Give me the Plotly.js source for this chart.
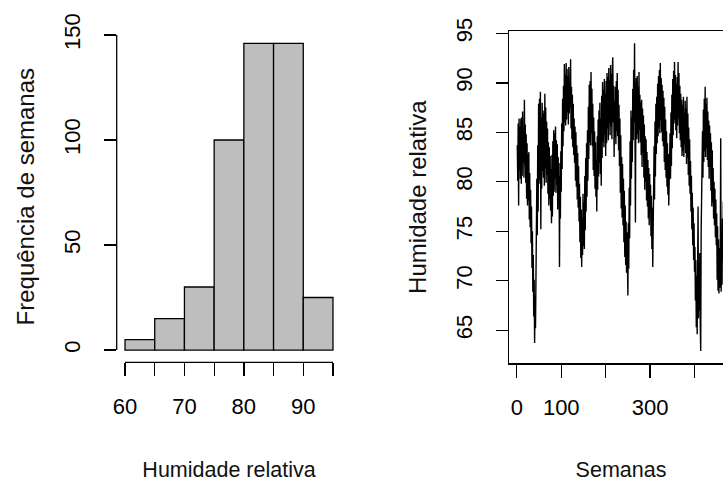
<!DOCTYPE html>
<html>
<head>
<meta charset="utf-8">
<script src="https://cdn.plot.ly/plotly-3.0.1.min.js"></script>
<style>
  html, body { margin: 0; padding: 0; overflow: hidden; background: #fff; }
  #chart { width: 740px; height: 482px; }
</style>
</head>
<body>
<div id="chart"></div>
<script>
// ---------- Data ----------
// Histogram of relative humidity (left panel)
const binStarts = [60, 65, 70, 75, 80, 85, 90];
const binWidth = 5;
const binCounts = [5, 15, 30, 100, 146, 146, 25];
const histXTicks = [60, 65, 70, 75, 80, 85, 90, 95];
const histXTickText = ['60', '', '70', '', '80', '', '90', ''];
const histYTicks = [0, 50, 100, 150];

// Weekly relative humidity series (right panel)
const humidity = [
  83.7, 80.1, 85.9, 77.6, 86.4, 81.2, 85.6, 80.3, 86.4, 79.8,
  86.5, 80.6, 87.1, 82.0, 84.9, 80.4, 88.3, 81.7, 85.8, 79.9,
  84.8, 78.3, 83.9, 77.6, 82.8, 78.1, 83.0, 76.2, 80.9, 75.4,
  79.2, 73.8, 77.5, 71.3, 75.0, 68.9, 72.6, 66.4, 70.1, 63.7,
  68.5, 65.2, 76.1, 70.9, 80.3, 74.6, 83.7, 77.0, 87.9, 79.8,
  88.4, 80.2, 89.1, 75.2, 86.5, 79.3, 88.0, 81.1, 87.2, 80.4,
  86.9, 79.6, 88.9, 81.3, 87.5, 79.9, 86.1, 80.7, 85.4, 78.8,
  84.0, 77.6, 83.5, 78.2, 82.6, 77.1, 81.3, 75.8, 82.7, 76.5,
  84.1, 78.6, 85.2, 79.0, 84.9, 80.3, 85.6, 78.9, 84.2, 79.7,
  83.8, 77.2, 82.5, 78.0, 81.9, 71.4, 80.6, 76.3, 83.1, 79.0,
  85.9, 81.3, 88.4, 83.6, 89.7, 85.1, 91.9, 86.0, 90.8, 85.7,
  92.0, 86.3, 91.4, 87.0, 90.7, 85.8, 91.6, 86.9, 90.2, 87.5,
  92.4, 85.4, 89.6, 84.3, 88.8, 83.5, 87.9, 82.7, 86.4, 81.9,
  85.6, 80.1, 85.0, 79.5, 83.7, 78.2, 82.9, 77.4, 81.6, 76.0,
  79.8, 73.9, 78.5, 72.3, 77.2, 71.4, 76.4, 72.6, 78.8, 73.5,
  77.9, 73.2, 80.6, 75.1, 82.4, 77.0, 83.9, 78.5, 85.2, 80.1,
  87.6, 82.3, 89.8, 84.0, 90.2, 83.7, 91.1, 84.9, 89.4, 83.6,
  87.9, 81.2, 86.5, 80.6, 85.1, 79.3, 84.0, 78.5, 82.3, 77.0,
  84.6, 79.2, 86.3, 80.5, 87.2, 81.9, 88.0, 80.8, 86.4, 79.6,
  88.7, 82.4, 90.1, 84.0, 89.3, 83.5, 90.4, 84.8, 88.9, 82.6,
  90.2, 83.9, 91.0, 85.4, 90.6, 84.2, 91.5, 85.9, 90.3, 84.7,
  91.8, 85.6, 90.9, 84.3, 91.4, 92.6, 86.0, 89.7, 82.5, 88.1,
  84.5, 89.6, 83.8, 90.2, 85.1, 91.0, 84.6, 89.3, 83.2, 87.8,
  81.6, 86.4, 78.9, 84.7, 77.3, 82.5, 76.4, 81.8, 75.6, 80.3,
  73.9, 79.1, 72.4, 77.6, 71.6, 76.0, 70.8, 74.9, 69.5, 68.5,
  75.8, 71.2, 79.4, 74.3, 84.1, 77.6, 87.2, 80.3, 86.5, 82.0,
  89.4, 84.2, 91.3, 86.0, 94.0, 85.1, 75.9, 88.6, 90.5, 84.3,
  90.7, 84.8, 89.6, 83.9, 91.1, 85.2, 88.8, 84.0, 88.1, 82.7,
  88.3, 81.5, 87.4, 82.9, 86.7, 80.4, 85.8, 79.2, 84.6, 80.0,
  84.3, 78.1, 83.0, 77.5, 82.2, 76.3, 81.4, 75.6, 80.8, 76.9,
  79.7, 74.5, 78.6, 73.2, 77.4, 71.4, 79.0, 75.8, 83.6, 78.2,
  86.1, 80.5, 87.9, 82.8, 88.6, 83.9, 89.9, 84.6, 90.7, 85.5,
  91.3, 84.9, 92.0, 86.2, 90.5, 85.0, 89.8, 84.1, 89.2, 83.6,
  88.5, 82.0, 87.6, 81.2, 86.3, 80.4, 85.1, 79.5, 83.9, 78.7,
  82.8, 77.6, 82.1, 79.0, 84.9, 80.3, 87.0, 81.6, 88.8, 83.4,
  90.4, 84.7, 91.2, 85.9, 92.1, 86.3, 90.8, 85.2, 89.9, 84.4,
  90.6, 85.7, 92.1, 86.4, 91.0, 84.9, 89.7, 84.2, 88.9, 83.5,
  88.3, 82.6, 87.8, 83.1, 88.6, 82.5, 87.0, 83.8, 88.2, 82.9,
  87.4, 81.8, 88.6, 82.4, 86.9, 80.7, 85.5, 79.6, 84.3, 78.8,
  82.1, 77.0, 80.6, 75.2, 78.9, 73.6, 77.4, 72.1, 75.8, 70.9,
  73.4, 68.0, 72.1, 65.3, 70.5, 64.6, 69.7, 77.5, 66.2, 71.9,
  67.0, 72.8, 65.4, 62.9, 75.0, 80.6, 76.9, 85.1, 80.4, 87.3,
  82.0, 88.4, 83.1, 89.6, 82.5, 87.9, 83.4, 88.5, 82.2, 87.1,
  81.5, 86.2, 80.3, 85.7, 81.5, 84.9, 79.1, 84.0, 77.5, 83.2,
  77.9, 81.4, 76.3, 80.0, 75.6, 79.3, 74.4, 78.2, 73.6, 76.8,
  70.1, 75.5, 69.0, 74.2, 68.7, 73.3, 69.3, 72.0, 84.4, 68.9,
  74.8, 69.6, 76.3, 72.1, 78.0, 74.4, 80.2, 76.5
];
const seriesXTicks = [0, 100, 200, 300, 400];
const seriesXTickText = ['0', '100', '', '300', ''];
const seriesYTicks = [65, 70, 75, 80, 85, 90, 95];

// ---------- Derived ----------
const binMids = binStarts.map(b => b + binWidth / 2);
const weeks = humidity.map((_, i) => i + 1);

function rPad(lo, hi) { const d = (hi - lo) * 0.04; return [lo - d, hi + d]; }
const histXRange = rPad(binStarts[0], binStarts[binStarts.length - 1] + binWidth);
const histYRange = rPad(0, Math.max(...binCounts));
const serXRange = rPad(1, humidity.length);
const serYRange = rPad(Math.min(...humidity), Math.max(...humidity));

const W = 740, H = 482;
const FONT = 'Liberation Sans, Arial, Helvetica, sans-serif';
const tickFont = { family: FONT, size: 22, color: '#000' };
const xTitleFont = { family: FONT, size: 21.5, color: '#111' };
const yTitleFont = { family: FONT, size: 24, color: '#111' };

const traces = [
  {
    type: 'bar', x: binMids, y: binCounts, width: binWidth,
    marker: { color: '#BEBEBE', line: { color: '#000', width: 1.3 } },
    xaxis: 'x', yaxis: 'y', hoverinfo: 'x+y', showlegend: false
  },
  {
    type: 'scatter', mode: 'lines', x: weeks, y: humidity,
    line: { color: '#000', width: 1.4 },
    xaxis: 'x2', yaxis: 'y2', showlegend: false
  }
];

const common = {
  showgrid: false, zeroline: false, ticks: 'outside',
  tickcolor: '#000', tickwidth: 1.3, tickfont: tickFont, fixedrange: true
};

const layout = {
  width: W, height: H,
  margin: { l: 0, r: 0, t: 0, b: 0 },
  paper_bgcolor: '#fff', plot_bgcolor: '#fff',
  bargap: 0,
  xaxis: Object.assign({}, common, {
    domain: [116.7 / W, 341.3 / W], range: histXRange,
    tickvals: histXTicks, ticktext: histXTickText, ticklen: 13,
    showline: false, ticklabelstandoff: 11,
    title: { text: 'Humidade relativa', font: xTitleFont, standoff: 44 },
    anchor: 'y'
  }),
  yaxis: Object.assign({}, common, {
    domain: [1 - 362.3 / H, 1 - 31.1 / H], range: histYRange,
    tickvals: histYTicks, ticklen: 12, tickangle: -90,
    showline: false, ticklabelstandoff: 15,
    title: { text: 'Frequência de semanas', font: yTitleFont, standoff: 18 },
    anchor: 'x'
  }),
  xaxis2: Object.assign({}, common, {
    domain: [509 / W, 733 / W], range: serXRange,
    tickvals: seriesXTicks, ticktext: seriesXTickText, ticklen: 13,
    showline: true, mirror: true, linecolor: '#000', linewidth: 1.3,
    ticklabelstandoff: 11,
    title: { text: 'Semanas', font: xTitleFont, standoff: 44 },
    anchor: 'y2'
  }),
  yaxis2: Object.assign({}, common, {
    domain: [1 - 363.3 / H, 1 - 31 / H], range: serYRange,
    tickvals: seriesYTicks, ticklen: 12, tickangle: -90,
    showline: true, mirror: true, linecolor: '#000', linewidth: 1.3,
    ticklabelstandoff: 15,
    title: { text: 'Humidade relativa', font: yTitleFont, standoff: 18 },
    anchor: 'x2'
  }),
  shapes: [
    { type: 'line', xref: 'x domain', yref: 'y', x0: 0, x1: 0,
      y0: histYTicks[0], y1: histYTicks[histYTicks.length - 1],
      line: { color: '#000', width: 1.3 } },
    { type: 'line', xref: 'x', yref: 'y domain', y0: 0, y1: 0,
      x0: histXTicks[0], x1: histXTicks[histXTicks.length - 1],
      line: { color: '#000', width: 1.3 } }
  ]
};

Plotly.newPlot('chart', traces, layout, { staticPlot: true, displayModeBar: false });
</script>
</body>
</html>
